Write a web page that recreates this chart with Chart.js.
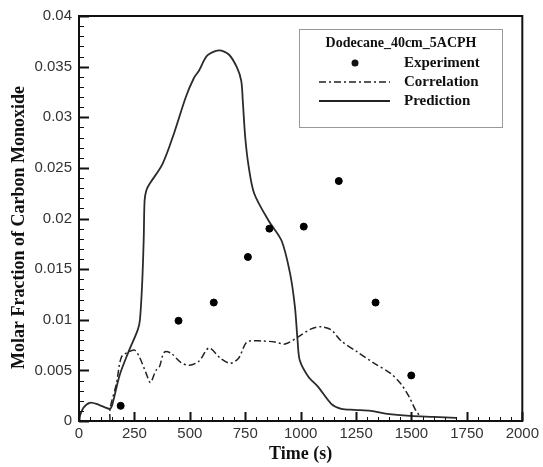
<!DOCTYPE html>
<html>
<head>
<meta charset="utf-8">
<script src="https://cdn.jsdelivr.net/npm/chart.js@4"></script>
<style>
  html, body { margin: 0; padding: 0; background: #fff; }
  #wrap { width: 543px; height: 467px; }
</style>
</head>
<body>
<div id="wrap"><canvas id="co_chart"></canvas></div>
<script>
// experiment points
var expTime = [188, 449, 608, 762, 859, 1014, 1172, 1338, 1499];
var expValue = [0.0015, 0.0099, 0.0117, 0.0162, 0.019, 0.0192, 0.0237, 0.0117, 0.0045];

// correlation curve (dash-dot)
var corrTime = [140, 140, 169, 191, 221, 251, 273, 303, 322, 347, 362, 385, 415, 459, 497, 541, 586, 638, 683, 720, 758, 825, 884, 929, 989, 1048, 1093, 1138, 1183, 1257, 1332, 1406, 1451, 1489, 1518, 1541];
var corrValue = [0, 0.0012, 0.0037, 0.0063, 0.0068, 0.007, 0.0063, 0.0047, 0.0038, 0.005, 0.0053, 0.0068, 0.0067, 0.0058, 0.0055, 0.0059, 0.0072, 0.0062, 0.0057, 0.0062, 0.0078, 0.0079, 0.0078, 0.0076, 0.0083, 0.0091, 0.0093, 0.009, 0.0079, 0.0068, 0.0057, 0.0047, 0.0037, 0.0024, 0.0011, 0.0004];

// prediction curve (solid)
var predTime = [0, 20, 49, 90, 139, 150, 183, 221, 265, 275, 285, 292, 296, 304, 318, 377, 430, 482, 519, 541, 579, 631, 676, 713, 732, 739, 750, 765, 790, 855, 914, 952, 974, 986, 996, 1034, 1078, 1138, 1183, 1242, 1317, 1391, 1494, 1600, 1701];
var predValue = [0.0003, 0.0013, 0.0018, 0.0016, 0.0012, 0.0016, 0.0045, 0.0067, 0.009, 0.01, 0.0136, 0.018, 0.0218, 0.0228, 0.0234, 0.0254, 0.0285, 0.032, 0.0339, 0.0346, 0.0361, 0.0366, 0.0362, 0.0349, 0.0336, 0.0316, 0.028, 0.0252, 0.0225, 0.0198, 0.0178, 0.0146, 0.0113, 0.008, 0.006, 0.0044, 0.0034, 0.0017, 0.0012, 0.0011, 0.001, 0.0007, 0.0005, 0.0004, 0.0003];

var legendTitle = "Dodecane_40cm_5ACPH";
var seriesNames = ["Experiment", "Correlation", "Prediction"];

function toPoints(xs, ys) {
    var pts = [];
    for (var i = 0; i < xs.length; i++) pts.push({x: xs[i], y: ys[i]});
    return pts;
}

var dashDot = [7, 3, 2, 3];

// frame, inward ticks and the boxed legend
var framePlugin = {
    id: "frame",
    afterDraw: function (chart) {
        var ctx = chart.ctx;
        var a = chart.chartArea;
        var xs = chart.scales.x, ys = chart.scales.y;
        ctx.save();
        ctx.strokeStyle = "#111";
        ctx.lineWidth = 1;
        // minor + major ticks on bottom axis
        for (var t = 0; t <= 2000; t += 50) {
            var px = Math.round(xs.getPixelForValue(t)) + 0.5;
            var len = (t % 250 === 0) ? 9 : 4;
            ctx.lineWidth = (t % 250 === 0) ? 2 : 1;
            ctx.beginPath();
            ctx.moveTo(px, a.bottom);
            ctx.lineTo(px, a.bottom - len);
            ctx.stroke();
        }
        // left axis
        for (var k = 0; k <= 40; k++) {
            var py = Math.round(ys.getPixelForValue(k / 1000)) + 0.5;
            var major = (k % 5 === 0);
            ctx.lineWidth = major ? 2 : 1;
            ctx.beginPath();
            ctx.moveTo(a.left, py);
            ctx.lineTo(a.left + (major ? 10 : 5), py);
            ctx.stroke();
        }
        ctx.lineWidth = 2;
        ctx.strokeRect(a.left, a.top, a.right - a.left, a.bottom - a.top);

        // legend box
        var bx = 299, by = 29, bw = 203, bh = 98;
        ctx.fillStyle = "#fff";
        ctx.fillRect(bx, by, bw, bh);
        ctx.lineWidth = 1;
        ctx.strokeStyle = "#999";
        ctx.strokeRect(bx + 0.5, by + 0.5, bw, bh);
        ctx.fillStyle = "#111";
        ctx.textBaseline = "middle";
        ctx.textAlign = "center";
        ctx.font = "bold 14px 'Liberation Serif'";
        ctx.fillText(legendTitle, 401, 43);
        ctx.textAlign = "left";
        ctx.font = "bold 15px 'Liberation Serif'";
        var rows = [63, 82, 101];
        for (var r = 0; r < 3; r++) ctx.fillText(seriesNames[r], 404, rows[r]);
        ctx.beginPath();
        ctx.arc(355, rows[0], 3.5, 0, Math.PI * 2);
        ctx.fill();
        ctx.strokeStyle = "#222";
        ctx.lineWidth = 1.5;
        ctx.setLineDash(dashDot);
        ctx.beginPath();
        ctx.moveTo(319, rows[1]);
        ctx.lineTo(390, rows[1]);
        ctx.stroke();
        ctx.setLineDash([]);
        ctx.lineWidth = 2;
        ctx.beginPath();
        ctx.moveTo(319, rows[2]);
        ctx.lineTo(390, rows[2]);
        ctx.stroke();
        ctx.restore();
    }
};

var ctx = document.getElementById("co_chart").getContext("2d");

new Chart(ctx, {
    type: "scatter",
    data: {
        datasets: [
            {
                label: seriesNames[0],
                data: toPoints(expTime, expValue),
                backgroundColor: "#000",
                borderColor: "#000",
                pointRadius: 3.5,
                showLine: false
            },
            {
                label: seriesNames[1],
                data: toPoints(corrTime, corrValue),
                borderColor: "#222",
                borderWidth: 1.5,
                borderDash: dashDot,
                pointRadius: 0,
                showLine: true,
                tension: 0.3
            },
            {
                label: seriesNames[2],
                data: toPoints(predTime, predValue),
                borderColor: "#2b2b2b",
                borderWidth: 1.8,
                pointRadius: 0,
                showLine: true,
                tension: 0.3
            }
        ]
    },
    options: {
        responsive: true,
        maintainAspectRatio: false,
        animation: false,
        layout: { padding: { top: 15, right: 17, left: 0, bottom: 0 } },
        scales: {
            x: {
                min: 0,
                max: 2000,
                afterFit: function (s) { s.height = 46; },
                ticks: {
                    stepSize: 250,
                    maxRotation: 0,
                    padding: 4,
                    color: "#333",
                    font: { family: "'Liberation Sans'", size: 15 },
                    callback: function (v) { return String(v); }
                },
                grid: { display: false, drawTicks: false },
                border: { display: false },
                title: {
                    display: true,
                    text: "Time (s)",
                    color: "#111",
                    padding: { top: 0, bottom: 2 },
                    font: { family: "'Liberation Serif'", size: 18, weight: "bold" }
                }
            },
            y: {
                min: 0,
                max: 0.04,
                afterFit: function (s) { s.width = 79; },
                ticks: {
                    stepSize: 0.005,
                    padding: 7,
                    color: "#333",
                    font: { family: "'Liberation Sans'", size: 15 },
                    callback: function (v) { return String(Number(v.toFixed(3))); }
                },
                grid: { display: false, drawTicks: false },
                border: { display: false },
                title: {
                    display: true,
                    text: "Molar Fraction of Carbon Monoxide    ",
                    color: "#111",
                    padding: { top: 9, bottom: 0 },
                    font: { family: "'Liberation Serif'", size: 18, weight: "bold" }
                }
            }
        },
        plugins: {
            legend: { display: false },
            tooltip: { enabled: false }
        }
    },
    plugins: [framePlugin]
});
</script>
</body>
</html>
